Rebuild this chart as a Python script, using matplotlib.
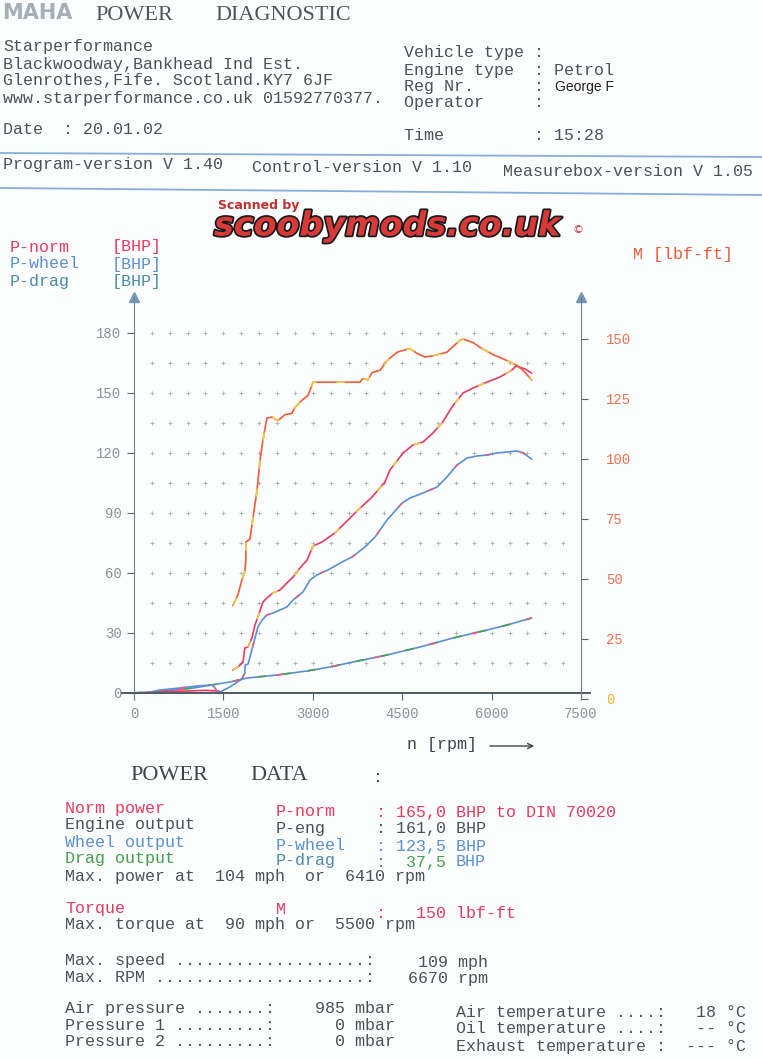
import numpy as np
import matplotlib
matplotlib.use('Agg')
import matplotlib.pyplot as plt
from matplotlib.lines import Line2D
import matplotlib.patheffects as pe

# --- data ---
# P-norm [BHP]
rpm_norm = [1660, 1745, 1830, 1860, 1915, 1980, 2030, 2080, 2165, 2230, 2330, 2450, 2565,
            2670, 2785, 2905, 3005, 3155, 3370, 3540, 3760, 3995, 4210, 4295, 4515, 4680,
            4850, 5015, 5170, 5335, 5520, 5690, 5925, 6140, 6340, 6410, 6560, 6670]
p_norm = [11.5, 13, 15.5, 22.5, 23, 27.5, 34, 38, 45.5, 47.5, 50, 51.5, 55,
          58, 62.5, 66.5, 73.5, 75.5, 80, 85, 91.5, 98, 105.5, 111.5, 120, 124,
          125.5, 130, 135, 143, 150, 152.5, 155.5, 158, 161.5, 163.5, 162, 160]
rpm_norm_lo = [150, 500, 900, 1200, 1420, 1500]
p_norm_lo = [0, 0.7, 1, 1.3, 1, 0]

# P-wheel [BHP]
rpm_wheel = [200, 440, 770, 1060, 1310, 1360, 1410, 1610, 1810, 1860, 1865, 1915, 2000,
             2080, 2150, 2230, 2330, 2450, 2565, 2670, 2835, 2955, 3070, 3170, 3255,
             3490, 3660, 3875, 4045, 4245, 4500, 4630, 4850, 5085, 5250, 5420, 5590,
             5755, 5925, 6090, 6260, 6425, 6530, 6670]
p_wheel = [0, 1.5, 2.5, 3.5, 4, 2.5, 0, 3, 7, 10, 14, 14.5, 24,
           33, 36.5, 39, 40, 41.5, 43, 46.5, 50.5, 56.5, 59, 60.5, 61.5,
           65.5, 68, 73, 78, 86.5, 95, 97.5, 100, 103, 108, 114, 117.5,
           118.5, 119, 120, 120.5, 121, 120, 117]

# P-drag [BHP]
rpm_drag = [0, 500, 1000, 1300, 1610, 1900, 2400, 2900, 3290, 3675, 4245, 4800,
            5355, 5925, 6260, 6670]
p_drag = [0, 1, 2.5, 4, 5.5, 7.5, 9, 11, 13, 15.5, 19, 23, 27.5, 31.5, 34, 37.5]

# M [lbf-ft]
rpm_torque = [1660, 1745, 1810, 1860, 1878, 1880, 1945, 2000, 2065, 2115, 2165, 2230,
              2315, 2415, 2535, 2650, 2700, 2820, 2920, 3005, 3170, 3790, 3840, 3925,
              3995, 4130, 4245, 4415, 4630, 4750, 4880, 5015, 5250, 5470, 5520, 5690,
              5805, 6025, 6260, 6425, 6525, 6670]
torque = [39, 43.5, 49.5, 53, 58, 65.5, 66.5, 76, 87, 99.5, 108, 117,
          117.5, 116, 118.5, 119, 121.5, 124.5, 126.5, 132, 132, 132, 133.5, 133,
          136, 137, 141, 144.5, 146, 144, 142.5, 143, 144.5, 149.5, 150, 148.5,
          146.5, 143.5, 141, 139, 137, 133]

x_ticks = [0, 1500, 3000, 4500, 6000, 7500]
bhp_ticks = [0, 30, 60, 90, 120, 150, 180]
lbf_ticks = [0, 25, 50, 75, 100, 125, 150]

# --- colours / fonts ---
MONO = 'Liberation Mono'
SERIF = 'Liberation Serif'
DARK = '#4a5258'
GRAY = '#8a9296'
RED = '#e83a60'
ORANGE = '#f05a3a'
YELLOW = '#e8d24a'
BLUE = '#5a8fd2'
GREEN = '#45a050'
PINK = '#e0608c'
LBLUE = '#86aedc'

W, H = 762, 1059
fig = plt.figure(figsize=(W / 100, H / 100), dpi=100)
fig.patch.set_facecolor('#fcfdfd')


def T(x, y, s, color=DARK, size=12, family=MONO, **kw):
    kw.setdefault('va', 'center')
    kw.setdefault('ha', 'left')
    return fig.text(x / W, 1 - y / H, s, color=color, fontsize=size,
                    fontfamily=family, **kw)


def hline(y0, y1, color=LBLUE):
    fig.add_artist(Line2D([0, 1], [1 - y0 / H, 1 - y1 / H], color=color, lw=1.3,
                          transform=fig.transFigure))


# --- header ---
T(2, 19, 'MAHA', color='#a6aeb6', size=15, family='DejaVu Sans', weight='bold', va='baseline')
T(95, 16, 'POWER', size=16, family=SERIF, color='#4e565c')
T(215, 16, 'DIAGNOSTIC', size=16, family=SERIF, color='#4e565c')

T(3, 47, 'Starperformance')
T(3, 64, 'Blackwoodway,Bankhead Ind Est.')
T(3, 81, 'Glenrothes,Fife. Scotland.KY7 6JF')
T(3, 98, 'www.starperformance.co.uk 01592770377.')
T(3, 130, 'Date  : 20.01.02')

T(404, 53, 'Vehicle type :')
T(404, 70, 'Engine type  : Petrol')
T(404, 87, 'Reg Nr.      :')
T(555, 87, 'George F', color='#202020', size=10, family='Liberation Sans')
T(404, 103, 'Operator     :')
T(404, 135, 'Time         : 15:28')

hline(153, 157)
T(3, 165, 'Program-version V 1.40')
T(252, 168, 'Control-version V 1.10')
T(503, 171, 'Measurebox-version V 1.05')
hline(188, 195)

# watermark
T(218, 205, 'Scanned by', color='#c03030', size=9, family='DejaVu Sans', weight='bold')
T(214, 226, 'scoobymods.co.uk', color='#d83a3a', size=24, family='DejaVu Sans',
  weight='bold', style='italic',
  path_effects=[pe.withStroke(linewidth=2.5, foreground='#1a1a1a')])
T(573, 230, '\u00a9', color='#c03030', size=8, family='DejaVu Sans')

# legend labels
T(10, 247, 'P-norm', color=RED)
T(112, 247, '[BHP]', color=RED)
T(10, 264, 'P-wheel', color=BLUE)
T(112, 264, '[BHP]', color=BLUE)
T(10, 281, 'P-drag', color='#4a8aa8')
T(112, 281, '[BHP]', color='#4a8aa8')
T(633, 255, 'M [lbf-ft]', color=ORANGE)

# --- chart ---
ax = fig.add_axes([122 / W, 1 - 699 / H, 468 / W, 402 / H])
ax.set_facecolor('none')
ax.set_xlim(-200, 7650)
ax.set_ylim(-3, 198)
ax2 = ax.twinx()
ax2.set_ylim(0, 167.5)

for a in (ax, ax2):
    for s in ('top', 'left', 'right', 'bottom'):
        a.spines[s].set_visible(False)

ax.spines['left'].set_visible(True)
ax.spines['left'].set_position(('data', 0))
ax.spines['left'].set_color('#6e8296')
ax.spines['bottom'].set_visible(True)
ax.spines['bottom'].set_position(('data', 0))
ax.spines['bottom'].set_color('#4e5a64')
ax.spines['bottom'].set_linewidth(1.4)
ax2.spines['right'].set_visible(True)
ax2.spines['right'].set_position(('data', 7500))
ax2.spines['right'].set_color('#6e7a84')

ax.plot([0, 7500], [198, 198], ls='none', marker='^', ms=7, color='#7896b4', clip_on=False)

ax.set_xticks(x_ticks)
ax.set_xticklabels([str(v) for v in x_ticks], fontfamily=MONO, fontsize=10, color=GRAY)
ax.set_yticks(bhp_ticks)
ax.set_yticklabels([str(v) for v in bhp_ticks], fontfamily=MONO, fontsize=10, color=GRAY)
ax.tick_params(axis='x', length=5, pad=5, color='#5a646c')
ax.tick_params(axis='y', length=5, pad=4, color='#5a646c')
ax2.set_yticks(lbf_ticks)
ax2.set_yticklabels([str(v) for v in lbf_ticks], fontfamily=MONO, fontsize=10)
for lab, v in zip(ax2.get_yticklabels(), lbf_ticks):
    lab.set_color('#f0b030' if v == 0 else '#f07050')
ax2.tick_params(axis='y', length=5, pad=13, color='#5a646c')

# dotted grid
gx, gy = np.meshgrid(np.arange(300, 7201, 300), np.arange(15, 181, 15))
ax.plot(gx.ravel(), gy.ravel(), ls='none', marker='+', ms=2.5, mew=0.6, color='#a8aeb2')

# curves
ax.plot(rpm_drag, p_drag, color=BLUE, lw=1.2)
ax.plot(rpm_drag, p_drag, color=GREEN, lw=1.2, dashes=(5, 10))
ax.plot(rpm_drag, p_drag, color=PINK, lw=1.2, dashes=(4, 22, 4, 30))

ax.plot(rpm_norm_lo, p_norm_lo, color=RED, lw=1.2)
ax.plot(rpm_wheel, p_wheel, color=BLUE, lw=1.2)
ax.plot(rpm_wheel, p_wheel, color=PINK, lw=1.2, dashes=(3, 18))
ax.plot(rpm_norm, p_norm, color=RED, lw=1.2)
ax.plot(rpm_norm, p_norm, color=YELLOW, lw=1.2, dashes=(4, 14))

ax2.plot(rpm_torque, torque, color=ORANGE, lw=1.2)
ax2.plot(rpm_torque, torque, color=YELLOW, lw=1.2, dashes=(5, 12))

T(407, 745, 'n [rpm]', color='#3e464c')
fig.add_artist(matplotlib.patches.FancyArrowPatch(
    (487 / W, 1 - 746 / H), (537 / W, 1 - 746 / H), transform=fig.transFigure,
    arrowstyle='->', mutation_scale=9, color='#3e464c', lw=1))

# --- power data block ---
T(130, 776, 'POWER', size=16, family=SERIF, color='#3e464c')
T(250, 776, 'DATA', size=16, family=SERIF, color='#3e464c')
T(373, 778, ':', color='#3e464c')

T(65, 808, 'Norm power', color=RED)
T(276, 811, 'P-norm', color=RED)
T(376, 812, ': 165,0 BHP to DIN 70020', color=RED)
T(65, 825, 'Engine output')
T(276, 828, 'P-eng')
T(376, 829, ': 161,0 BHP')
T(65, 842, 'Wheel output', color=BLUE)
T(276, 845, 'P-wheel', color=BLUE)
T(376, 846, ': 123,5 BHP', color=BLUE)
T(65, 858, 'Drag output', color=GREEN)
T(276, 861, 'P-drag', color='#4a8aa8')
T(376, 862, ':  37,5', color=GREEN)
T(456, 862, 'BHP', color=BLUE)
T(65, 877, 'Max. power at  104 mph  or  6410 rpm')

T(65, 908, 'Torque', color=RED)
T(276, 910, 'M', color=RED)
T(376, 913, ':   150 lbf-ft', color=RED)
T(65, 925, 'Max. torque at  90 mph or  5500 rpm')

T(65, 960, 'Max. speed ...................:')
T(488, 962, '109 mph', ha='right')
T(65, 977, 'Max. RPM .....................:')
T(488, 979, '6670 rpm', ha='right')

T(65, 1008, 'Air pressure .......:    985 mbar')
T(65, 1025, 'Pressure 1 .........:      0 mbar')
T(65, 1041, 'Pressure 2 .........:      0 mbar')
T(456, 1013, 'Air temperature ....:   18 \u00b0C')
T(456, 1029, 'Oil temperature ....:   -- \u00b0C')
T(456, 1046, 'Exhaust temperature :  --- \u00b0C')

fig.savefig('out.png', dpi=100)
